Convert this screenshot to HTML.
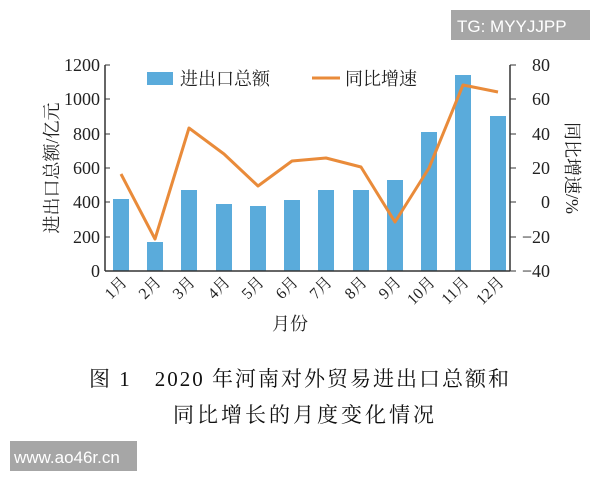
<!DOCTYPE html>
<html><head><meta charset="utf-8"><style>
body{margin:0;background:#fff;width:600px;height:480px;overflow:hidden}
</style></head><body>
<svg width="600" height="480" viewBox="0 0 600 480" xmlns="http://www.w3.org/2000/svg" font-family="Liberation Serif, Noto Serif CJK SC, serif">
<rect width="600" height="480" fill="#fff"/>
<g fill="#5aabdb">
<rect x="113" y="199" width="16" height="72"/>
<rect x="147" y="242" width="16" height="29"/>
<rect x="181" y="190" width="16" height="81"/>
<rect x="216" y="204" width="16" height="67"/>
<rect x="250" y="206" width="16" height="65"/>
<rect x="284" y="200" width="16" height="71"/>
<rect x="318" y="190" width="16" height="81"/>
<rect x="353" y="190" width="16" height="81"/>
<rect x="387" y="180" width="16" height="91"/>
<rect x="421" y="132" width="16" height="139"/>
<rect x="455" y="75" width="16" height="196"/>
<rect x="490" y="116" width="16" height="155"/>
</g>
<polyline fill="none" stroke="#e98b3a" stroke-width="3" stroke-linejoin="round" points="121,174 155,239 189,128 224,154 258,186 292,161 326,158 361,167 395,222 429,168 463,85 498,92"/>
<g stroke="#333" stroke-width="1.5" fill="none">
<line x1="105" y1="65" x2="105" y2="271"/>
<line x1="510" y1="65" x2="510" y2="271"/>
<line x1="105" y1="271" x2="510" y2="271"/>
</g>
<g stroke="#333" stroke-width="1">
<line x1="105" y1="65" x2="110" y2="65"/><line x1="105" y1="99" x2="110" y2="99"/><line x1="105" y1="134" x2="110" y2="134"/><line x1="105" y1="168" x2="110" y2="168"/><line x1="105" y1="202" x2="110" y2="202"/><line x1="105" y1="237" x2="110" y2="237"/>
<line x1="510" y1="65" x2="516" y2="65"/><line x1="510" y1="99" x2="516" y2="99"/><line x1="510" y1="134" x2="516" y2="134"/><line x1="510" y1="168" x2="516" y2="168"/><line x1="510" y1="202" x2="516" y2="202"/><line x1="510" y1="237" x2="516" y2="237"/><line x1="510" y1="271" x2="516" y2="271"/>
</g>
<g font-size="18" fill="#222" text-anchor="end">
<text x="100" y="71">1200</text><text x="100" y="105">1000</text><text x="100" y="140">800</text><text x="100" y="174">600</text><text x="100" y="208">400</text><text x="100" y="243">200</text><text x="100" y="277">0</text>
</g>
<g font-size="18" fill="#222" text-anchor="end">
<text x="550" y="71">80</text><text x="550" y="105">60</text><text x="550" y="140">40</text><text x="550" y="174">20</text><text x="550" y="208">0</text><text x="550" y="243">−20</text><text x="550" y="277">−40</text>
</g>
<g font-size="16" fill="#222" text-anchor="end">
<text transform="translate(128,283) rotate(-45)">1月</text>
<text transform="translate(162,283) rotate(-45)">2月</text>
<text transform="translate(196,283) rotate(-45)">3月</text>
<text transform="translate(231,283) rotate(-45)">4月</text>
<text transform="translate(265,283) rotate(-45)">5月</text>
<text transform="translate(299,283) rotate(-45)">6月</text>
<text transform="translate(333,283) rotate(-45)">7月</text>
<text transform="translate(368,283) rotate(-45)">8月</text>
<text transform="translate(402,283) rotate(-45)">9月</text>
<text transform="translate(436,283) rotate(-45)">10月</text>
<text transform="translate(470,283) rotate(-45)">11月</text>
<text transform="translate(505,283) rotate(-45)">12月</text>
</g>
<text x="290" y="330" font-size="18" fill="#222" text-anchor="middle">月份</text>
<text transform="translate(58,168) rotate(-90)" font-size="18" fill="#222" text-anchor="middle">进出口总额/亿元</text>
<text transform="translate(566,168) rotate(90)" font-size="18" fill="#222" text-anchor="middle">同比增速/%</text>
<rect x="147" y="72" width="26" height="13" fill="#5aabdb"/>
<text x="180" y="85" font-size="18" fill="#222">进出口总额</text>
<line x1="312" y1="78" x2="340" y2="78" stroke="#e98b3a" stroke-width="3"/>
<text x="345" y="85" font-size="18" fill="#222">同比增速</text>
<text x="300" y="386" font-size="21" letter-spacing="2" fill="#111" text-anchor="middle">图 1　2020 年河南对外贸易进出口总额和</text>
<text x="305" y="422" font-size="21" letter-spacing="3" fill="#111" text-anchor="middle">同比增长的月度变化情况</text>
<rect x="451" y="10" width="139" height="30" fill="#a6a6a6"/>
<text x="457" y="32" font-family="Liberation Sans, sans-serif" font-size="17" fill="#fff">TG: MYYJJPP</text>
<rect x="10" y="441" width="127" height="30" fill="#a6a6a6"/>
<text x="14" y="463" font-family="Liberation Sans, sans-serif" font-size="17" fill="#fff">www.ao46r.cn</text>
</svg>
</body></html>
